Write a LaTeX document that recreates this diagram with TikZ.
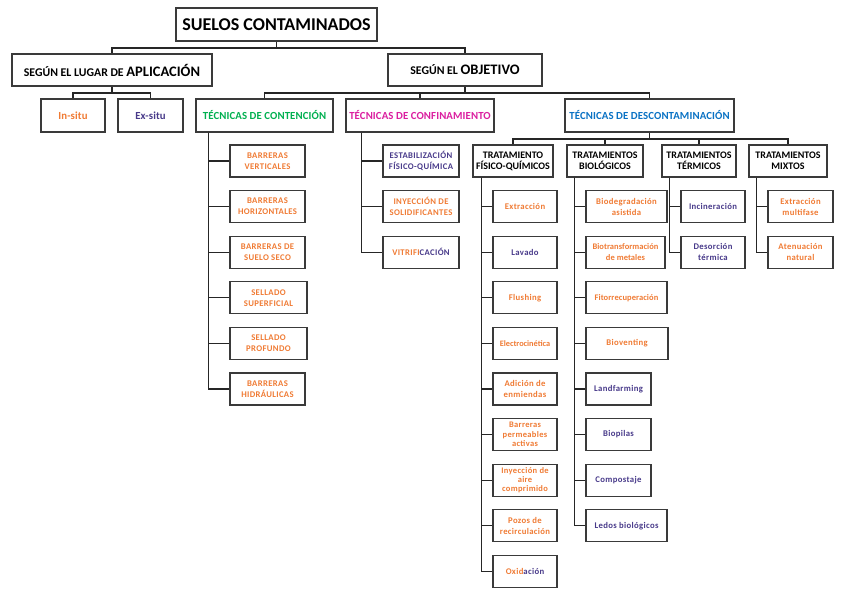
\documentclass[tikz,border=0pt]{standalone}
\usepackage{fontspec}
\setmainfont{Carlito}
\newfontfamily\leaffont[LetterSpace=4]{Carlito}
\newfontfamily\techfont[LetterSpace=1]{Carlito}
\usetikzlibrary{calc}
\definecolor{orng}{HTML}{F07B34}
\definecolor{purp}{HTML}{483A8A}
\definecolor{grn}{HTML}{00B050}
\definecolor{mgn}{HTML}{DB1FA0}
\definecolor{blu}{HTML}{0A72C4}
\definecolor{edge}{HTML}{3A3A3A}
\begin{document}
\begin{tikzpicture}[x=1pt,y=-1pt,
  bx/.style={draw=edge, line width=1.2pt, fill=white, inner sep=1pt, align=center, minimum height=32pt},
  big/.style={bx, font=\bfseries\fontsize{11.8}{13}\selectfont},
  tech/.style={bx, font=\techfont\bfseries\fontsize{10.8}{12}\selectfont},
  head/.style={bx, font=\bfseries\fontsize{10}{11.2}\selectfont},
  leaf/.style={bx, font=\leaffont\bfseries\fontsize{8.7}{11}\selectfont},
  og/.style={leaf, text=orng},
  pp/.style={leaf, text=purp},
  conn/.style={draw=black!85, line width=1.2pt},
]
\useasboundingbox (0,0) rectangle (848,599);
\coordinate (busA) at (0,48);
\coordinate (busB) at (0,93);
\coordinate (busC) at (0,139);

% top
\node[bx, minimum width=201pt, minimum height=33pt, font=\bfseries\fontsize{18}{20}\selectfont] (title) at (276.5,24.5) {SUELOS CONTAMINADOS};
\node[big, minimum width=200pt] (apl) at (112,70) {SEGÚN EL LUGAR DE {\fontsize{14.5}{15}\selectfont APLICACIÓN}};
\node[big, minimum width=154pt] (obj) at (465,70) {SEGÚN EL {\fontsize{14.5}{15}\selectfont OBJETIVO}};

\node[tech, minimum width=64pt, minimum height=33pt, text=orng] (insitu) at (73,115.5) {In-situ};
\node[tech, minimum width=65pt, minimum height=33pt, text=purp] (exsitu) at (150.5,115.5) {Ex-situ};
\node[tech, minimum width=137pt, minimum height=33pt, text=grn] (cont) at (264.5,115.5) {TÉCNICAS DE CONTENCIÓN};
\node[tech, minimum width=148pt, minimum height=33pt, text=mgn] (conf) at (420,115.5) {TÉCNICAS DE CONFINAMIENTO};
\node[tech, minimum width=169pt, minimum height=33pt, text=blu] (desc) at (649.5,115.5) {TÉCNICAS DE DESCONTAMINACIÓN};

\draw[conn] (apl.north) |- (title.south |- busA) -- (title.south);
\draw[conn] (obj.north) |- (title.south |- busA);
\draw[conn] (insitu.north) |- (apl.south |- busB) -- (apl.south);
\draw[conn] (exsitu.north) |- (apl.south |- busB);
\draw[conn] (cont.north) |- (obj.south |- busB) -- (obj.south);
\draw[conn] (conf.north) |- (obj.south |- busB);
\draw[conn] (desc.north) |- (obj.south |- busB);

% contencion
\node[og, minimum width=75pt] (c1) at (267.5,161) {BARRERAS\\VERTICALES};
\node[og, minimum width=75pt] (c2) at (267.5,206.6) {BARRERAS\\HORIZONTALES};
\node[og, minimum width=75pt] (c3) at (267.5,252.2) {BARRERAS DE\\SUELO SECO};
\node[og, minimum width=77pt] (c4) at (268.5,297.8) {SELLADO\\SUPERFICIAL};
\node[og, minimum width=77pt] (c5) at (268.5,343.4) {SELLADO\\PROFUNDO};
\node[og, minimum width=75pt] (c6) at (267.5,389) {BARRERAS\\HIDRÁULICAS};
\foreach \n in {c1,c2,c3,c4,c5,c6}{
  \draw[conn] ([xshift=13pt]cont.south west) |- (\n.west);
}

% confinamiento
\node[pp, minimum width=76pt] (f1) at (421,161) {ESTABILIZACIÓN\\FÍSICO-QUÍMICA};
\node[og, minimum width=76pt] (f2) at (421,206.6) {INYECCIÓN DE\\SOLIDIFICANTES};
\node[og, minimum width=76pt] (f3) at (421,252.2) {VITRIFI\textcolor{purp}{CACIÓN}};
\foreach \n in {f1,f2,f3}{
  \draw[conn] ([xshift=16pt]conf.south west) |- (\n.west);
}

% descontaminacion headers
\node[head, minimum width=80pt] (pq) at (513,161) {TRATAMIENTO\\FÍSICO-QUÍMICOS};
\node[head, minimum width=76pt] (bio) at (605,161) {TRATAMIENTOS\\BIOLÓGICOS};
\node[head, minimum width=74pt] (ter) at (699,161) {TRATAMIENTOS\\TÉRMICOS};
\node[head, minimum width=78pt] (mix) at (788,161) {TRATAMIENTOS\\MIXTOS};
\foreach \n in {pq,bio,ter,mix}{
  \draw[conn] (\n.north) |- (desc.south |- busC) -- (desc.south);
}

% fisico-quimicos
\node[og, minimum width=64pt] (p1) at (525,206.6) {Extracción};
\node[pp, minimum width=64pt] (p2) at (525,252.2) {Lavado};
\node[og, minimum width=64pt] (p3) at (525,297.8) {Flushing};
\node[og, minimum width=64pt, font=\leaffont\bfseries\fontsize{8.3}{11}\selectfont\addfontfeature{LetterSpace=0}] (p4) at (525,343.4) {Electrocinética};
\node[og, minimum width=64pt] (p5) at (525,389) {Adición de\\enmiendas};
\node[og, minimum width=64pt, font=\leaffont\bfseries\fontsize{8.5}{9.4}\selectfont] (p6) at (525,434.6) {Barreras\\permeables\\activas};
\node[og, minimum width=64pt, font=\leaffont\bfseries\fontsize{8.5}{9.4}\selectfont] (p7) at (525,480.2) {Inyección de\\aire\\comprimido};
\node[og, minimum width=64pt] (p8) at (525,525.8) {Pozos de\\recirculación};
\node[og, minimum width=64pt] (p9) at (525,571.4) {Oxid\textcolor{purp}{ación}};
\foreach \n in {p1,p2,p3,p4,p5,p6,p7,p8,p9}{
  \draw[conn] ([xshift=9pt]pq.south west) |- (\n.west);
}

% biologicos
\node[og, minimum width=81pt] (b1) at (626.5,206.6) {Biodegradación\\asistida};
\node[og, minimum width=79pt, font=\leaffont\bfseries\fontsize{8.5}{11}\selectfont\addfontfeature{LetterSpace=0.5}] (b2) at (625.5,252.2) {Biotransformación\\de metales};
\node[og, minimum width=81pt, font=\leaffont\bfseries\fontsize{8.5}{11}\selectfont\addfontfeature{LetterSpace=1}] (b3) at (626.5,297.8) {Fitorrecuperación};
\node[og, minimum width=82pt] (b4) at (627,343.4) {Bioventing};
\node[pp, minimum width=65pt] (b5) at (618.5,389) {Landfarming};
\node[pp, minimum width=65pt] (b6) at (618.5,434.6) {Biopilas};
\node[pp, minimum width=65pt] (b7) at (618.5,480.2) {Compostaje};
\node[pp, minimum width=81pt] (b8) at (626.5,525.8) {Ledos biológicos};
\foreach \n in {b1,b2,b3,b4,b5,b6,b7,b8}{
  \draw[conn] ([xshift=8pt]bio.south west) |- (\n.west);
}

% termicos
\node[pp, minimum width=64pt] (t1) at (713,206.6) {Incineración};
\node[pp, minimum width=64pt] (t2) at (713,252.2) {Desorción\\térmica};
\foreach \n in {t1,t2}{
  \draw[conn] ([xshift=8pt]ter.south west) |- (\n.west);
}

% mixtos
\node[og, minimum width=65pt] (m1) at (800.5,206.6) {Extracción\\multifase};
\node[og, minimum width=65pt] (m2) at (800.5,252.2) {Atenuación\\natural};
\foreach \n in {m1,m2}{
  \draw[conn] ([xshift=8pt]mix.south west) |- (\n.west);
}
\end{tikzpicture}
\end{document}
